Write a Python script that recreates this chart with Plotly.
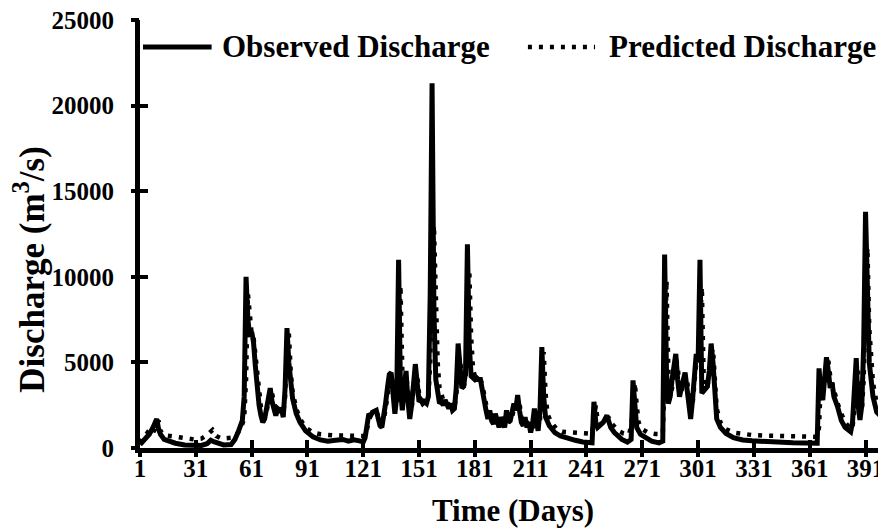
import plotly.graph_objects as go

# observed discharge (day, m3/s)
obs_day = [1, 2, 4, 6, 8, 9, 10, 11, 12, 14,
           17, 20, 25, 30, 34, 37, 39, 41, 43, 46,
           50, 52, 54, 56, 57, 58, 59, 60, 61, 62,
           63, 64, 65, 66, 67, 68, 69, 70, 71, 72,
           73, 74, 75, 76, 77, 78, 79, 80, 81, 82,
           83, 85, 87, 90, 94, 98, 102, 106, 110, 113,
           116, 119, 121, 122, 123, 124, 125, 126, 128, 129,
           130, 131, 132, 133, 134, 135, 136, 137, 138, 139,
           140, 141, 142, 143, 144, 145, 146, 147, 148, 149,
           150, 151, 152, 153, 154, 155, 156, 157, 158, 159,
           160, 161, 162, 163, 164, 165, 166, 167, 168, 169,
           170, 171, 172, 173, 174, 175, 176, 177, 178, 179,
           180, 181, 182, 183, 184, 185, 186, 187, 188, 189,
           190, 191, 192, 193, 194, 195, 196, 197, 198, 199,
           200, 201, 202, 203, 204, 205, 206, 207, 208, 209,
           210, 211, 212, 213, 214, 215, 216, 217, 218, 219,
           221, 224, 227, 231, 235, 239, 244, 245, 246, 247,
           248, 250, 252, 253, 254, 256, 258, 260, 263, 265,
           266, 267, 268, 270, 273, 276, 280, 282, 283, 284,
           285, 286, 287, 288, 289, 290, 291, 292, 293, 294,
           295, 296, 297, 298, 299, 300, 301, 302, 303, 304,
           305, 306, 307, 308, 309, 310, 311, 313, 316, 320,
           325, 330, 338, 345, 352, 358, 365, 366, 367, 368,
           369, 370, 371, 372, 373, 374, 376, 378, 380, 383,
           384, 385, 386, 387, 388, 389, 390, 391, 392, 393,
           394, 395, 397, 399, 401, 402]
obs_q = [200, 300, 500, 800, 1200, 1500, 1700, 1100, 800, 500,
         350, 280, 180, 150, 150, 250, 450, 350, 250, 180,
         200, 500, 1000, 1600, 3000, 10000, 7500, 6500, 6800, 6200,
         4800, 3400, 2500, 1900, 1500, 1700, 2300, 3000, 3500, 2700,
         2200, 1900, 2300, 2200, 2300, 1800, 3500, 7000, 5000, 3800,
         2900, 2000, 1500, 1000, 650, 470, 400, 450, 500, 400,
         480, 420, 350, 600, 1600, 2000, 1900, 2100, 2200, 1700,
         1300, 1200, 1800, 2600, 3500, 4300, 4400, 2800, 2000, 3000,
         11000, 3500, 2200, 3500, 4500, 2800, 1700, 2500, 3800, 4900,
         3800, 2700, 2800, 2600, 2700, 2600, 3000, 9000, 21300, 8000,
         4000, 3000, 2600, 2700, 2500, 2800, 2500, 2300, 2600, 2200,
         2300, 3500, 6100, 4200, 3500, 3600, 4500, 11900, 6000, 4200,
         4100, 4000, 4100, 4000, 4000, 3300, 2500, 2200, 1700, 2200,
         1600, 1400, 2000, 1500, 1200, 1800, 1400, 1200, 2200, 1500,
         1600, 2000, 2600, 2200, 3100, 2200, 1500, 1300, 1800, 1200,
         1500, 900, 1400, 2300, 1500, 1000, 2200, 5900, 3000, 1800,
         1300, 900, 700, 550, 450, 350, 300, 2700, 1500, 1200,
         1300, 1500, 1900, 1500, 1200, 900, 700, 500, 350, 500,
         3950, 2000, 1200, 800, 580, 400, 300, 400, 11300, 4500,
         2600, 3000, 4000, 5000, 5500, 4000, 3000, 3500, 4000, 4400,
         3500, 2500, 1700, 2800, 4000, 5500, 5000, 11000, 3200, 3300,
         3500, 3600, 4500, 6100, 5000, 3000, 1700, 1200, 850, 600,
         470, 420, 350, 320, 300, 290, 280, 4650, 3200, 2800,
         4000, 5300, 4500, 3500, 3800, 3000, 2400, 1600, 1200, 950,
         1500, 3000, 5250, 2500, 1640, 2500, 6000, 13800, 8000, 5000,
         4000, 3000, 2100, 1900, 1650, 2000]

# predicted discharge
pred_day = [1, 3, 5, 7, 9, 10, 11, 12, 14, 17,
            20, 25, 30, 34, 37, 40, 42, 45, 50, 53,
            55, 57, 58, 59, 60, 61, 62, 63, 64, 65,
            66, 67, 68, 69, 70, 71, 72, 73, 74, 75,
            76, 77, 78, 79, 80, 81, 82, 83, 85, 87,
            90, 94, 98, 102, 106, 110, 114, 118, 121, 122,
            123, 124, 125, 126, 128, 129, 130, 131, 132, 133,
            134, 135, 136, 137, 138, 139, 140, 141, 142, 143,
            144, 145, 146, 147, 148, 149, 150, 151, 152, 153,
            154, 155, 156, 157, 158, 159, 160, 161, 162, 163,
            164, 165, 166, 167, 168, 169, 170, 171, 172, 173,
            174, 175, 176, 177, 178, 179, 180, 181, 182, 183,
            184, 185, 186, 187, 188, 189, 190, 191, 192, 193,
            194, 195, 196, 197, 198, 199, 200, 201, 202, 203,
            204, 205, 206, 207, 208, 209, 210, 211, 212, 213,
            214, 215, 216, 217, 218, 219, 220, 222, 225, 228,
            232, 236, 240, 244, 245, 246, 247, 248, 250, 252,
            253, 254, 256, 258, 261, 264, 266, 267, 268, 269,
            271, 274, 278, 282, 283, 284, 285, 286, 287, 288,
            289, 290, 291, 292, 293, 294, 295, 296, 297, 298,
            299, 300, 301, 302, 303, 304, 305, 306, 307, 308,
            309, 310, 311, 313, 316, 320, 325, 330, 338, 345,
            352, 358, 365, 366, 367, 368, 369, 370, 371, 372,
            373, 374, 376, 378, 380, 383, 384, 385, 386, 387,
            388, 389, 390, 391, 392, 393, 394, 395, 397, 399,
            401, 402]
pred_q = [300, 600, 900, 700, 1100, 1500, 1600, 1000, 750, 700,
          650, 550, 500, 550, 750, 1050, 700, 550, 600, 800,
          1100, 1700, 4000, 9000, 7500, 6700, 6500, 5500, 4200, 3100,
          2400, 1900, 1800, 2100, 2700, 3300, 3200, 2500, 2100, 2200,
          2200, 2200, 2000, 3000, 6000, 6700, 4500, 3300, 2300, 1700,
          1200, 900, 800, 750, 730, 730, 720, 720, 700, 700,
          1100, 1700, 2000, 2000, 2100, 1900, 1600, 1400, 1600, 2200,
          3000, 3800, 4300, 3500, 2500, 2600, 5000, 9500, 4500, 3300,
          4200, 3500, 2300, 2300, 3400, 4500, 4300, 3200, 2900, 2800,
          2700, 2700, 2900, 5000, 11000, 13000, 8000, 5000, 3500, 3000,
          2800, 2800, 2700, 2500, 2500, 2400, 2400, 3000, 5000, 5300,
          3800, 3600, 4000, 7000, 10400, 6500, 4600, 4200, 4100, 4100,
          4000, 3700, 3000, 2400, 2000, 2000, 1900, 1600, 1800, 1700,
          1400, 1600, 1600, 1300, 1800, 1800, 1600, 1800, 2300, 2400,
          2800, 2600, 1800, 1500, 1600, 1500, 1400, 1100, 1200, 1900,
          2000, 1300, 1600, 4000, 5600, 3200, 2000, 1500, 1100, 950,
          900, 880, 860, 830, 1500, 2500, 1600, 1400, 1400, 1700,
          1800, 1500, 1200, 1000, 850, 800, 2000, 3800, 2500, 1500,
          1100, 900, 820, 800, 4000, 9800, 4500, 3000, 3500, 4500,
          5200, 4800, 3500, 3300, 3800, 4200, 4000, 3000, 2300, 2500,
          3500, 5000, 5300, 8000, 9400, 4000, 3500, 3600, 4200, 5500,
          5800, 4000, 2300, 1500, 1100, 900, 800, 760, 720, 700,
          680, 670, 650, 1200, 4000, 3500, 3600, 4800, 5100, 4200,
          3800, 3300, 2600, 2000, 1500, 1100, 1200, 2200, 4200, 4500,
          2300, 2200, 4000, 9000, 11700, 7000, 5000, 3800, 2600, 2200,
          1900, 2000]

x_range = [1, 402]
y_range = [0, 25000]
FONT = "Liberation Serif, Times New Roman, serif"
DOTS = "4px,7px"
tick_font = dict(family=FONT, size=25, color="black", weight="bold")

fig = go.Figure()
fig.add_trace(go.Scatter(x=obs_day, y=obs_q, mode="lines", name="Observed Discharge",
                         line=dict(color="black", width=5)))
# predicted sits on overlay axes (these also give the outer half of the crossing ticks)
fig.add_trace(go.Scatter(x=pred_day, y=pred_q, mode="lines", name="Predicted Discharge",
                         xaxis="x2", yaxis="y2",
                         line=dict(color="black", width=4.5, dash=DOTS)))

# the page body adds an 8px margin, so the figure is shrunk and shifted to compensate
fig.update_layout(
    width=878, height=523,
    margin=dict(l=132, r=0, t=12, b=83),
    plot_bgcolor="white", paper_bgcolor="white",
    showlegend=False,
    xaxis=dict(range=x_range, tick0=1, dtick=30, automargin=False,
               showgrid=False, zeroline=False, showline=True, linecolor="black", linewidth=5,
               ticks="inside", ticklen=8, tickwidth=4, tickcolor="black",
               tickfont=tick_font, ticklabelstandoff=-6, ticklabeloverflow="allow",
               title=dict(text="<b>Time (Days)</b>", standoff=20,
                          font=dict(family=FONT, size=31, color="black"))),
    yaxis=dict(range=y_range, dtick=5000, tickformat="d", automargin=False,
               showgrid=False, zeroline=False, showline=True, linecolor="black", linewidth=5,
               ticks="inside", ticklen=8, tickwidth=4, tickcolor="black",
               tickfont=tick_font, ticklabelstandoff=16, ticklabeloverflow="allow"),
    xaxis2=dict(overlaying="x", anchor="y", matches="x", range=x_range, tick0=1, dtick=30,
                automargin=False, showgrid=False, zeroline=False, showline=False,
                showticklabels=False, ticks="outside", ticklen=8, tickwidth=4, tickcolor="black"),
    yaxis2=dict(overlaying="y", anchor="x", matches="y", range=y_range, dtick=5000,
                automargin=False, showgrid=False, zeroline=False, showline=False,
                showticklabels=False, ticks="outside", ticklen=8, tickwidth=4, tickcolor="black"),
)

# y title as an annotation so it sits a little below the plot middle, as in the original
fig.add_annotation(x=-0.148, y=0.418, xref="paper", yref="paper", xanchor="center",
                   yanchor="middle", textangle=-90, showarrow=False,
                   text="<b>Discharge (m<sup>3</sup>/s)</b>",
                   font=dict(family=FONT, size=35, color="black"))

# legend drawn by hand so the sample lines are as long as in the original
leg_y = 0.937
fig.add_shape(type="line", xref="paper", yref="paper", x0=0.004, x1=0.096, y0=leg_y, y1=leg_y,
              line=dict(color="black", width=5))
fig.add_shape(type="line", xref="paper", yref="paper", x0=0.52, x1=0.61, y0=leg_y, y1=leg_y,
              line=dict(color="black", width=4.5, dash=DOTS))
fig.add_annotation(x=0.107, y=leg_y, xref="paper", yref="paper", xanchor="left", yanchor="middle",
                   showarrow=False, text="<b>Observed Discharge</b>",
                   font=dict(family=FONT, size=31, color="black"))
fig.add_annotation(x=0.626, y=leg_y, xref="paper", yref="paper", xanchor="left", yanchor="middle",
                   showarrow=False, text="<b>Predicted Discharge</b>",
                   font=dict(family=FONT, size=31, color="black"))

fig.write_html("out.html")
